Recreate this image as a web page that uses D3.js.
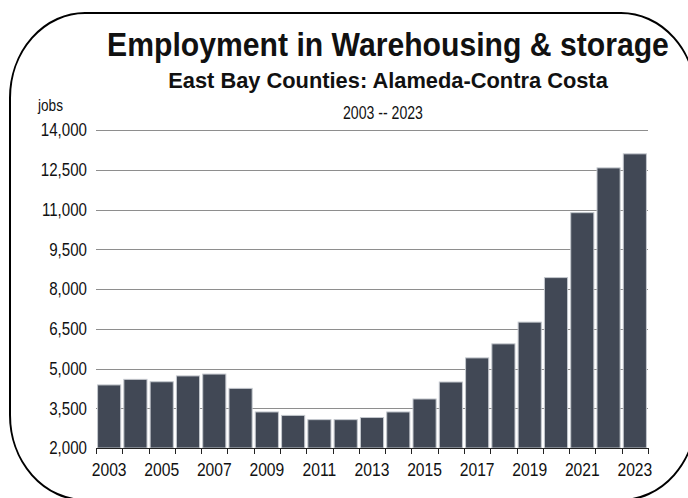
<!DOCTYPE html>
<html>
<head>
<meta charset="utf-8">
<script src="https://cdn.jsdelivr.net/npm/d3@7"></script>
<style>
  html, body { margin: 0; padding: 0; background: #fff; }
  svg { display: block; }
  text { font-family: "Liberation Sans", Arial, sans-serif; fill: #111; }
</style>
</head>
<body>
<svg id="chart" width="688" height="498"></svg>
<script>
// Annual employment, warehousing & storage (jobs)
const years = [2003, 2004, 2005, 2006, 2007, 2008, 2009, 2010, 2011, 2012, 2013,
               2014, 2015, 2016, 2017, 2018, 2019, 2020, 2021, 2022, 2023];
const jobs = [4380, 4590, 4500, 4720, 4790, 4250, 3360, 3230, 3070, 3070, 3150,
              3360, 3850, 4490, 5400, 5930, 6750, 8430, 10880, 12570, 13100];
const yTicks = [2000, 3500, 5000, 6500, 8000, 9500, 11000, 12500, 14000];
const xLabelYears = [2003, 2005, 2007, 2009, 2011, 2013, 2015, 2017, 2019, 2021, 2023];

const titleText = "Employment in Warehousing & storage";
const subtitleText = "East Bay Counties: Alameda-Contra Costa";
const rangeText = "2003 -- 2023";
const unitText = "jobs";

const svg = d3.select("#chart");
const plot = { left: 96, right: 648, top: 130, bottom: 448 };

// Condensed text: draws a label squeezed horizontally around its anchor point
function narrowText(parent, str, px, py, opts) {
  const g = parent.append("g")
    .attr("transform", `translate(${px},${py}) scale(${opts.sx || 1},1)`);
  const t = g.append("text")
    .attr("text-anchor", opts.anchor || "start")
    .attr("dy", opts.dy || null)
    .style("font-size", opts.size + "px")
    .style("font-weight", opts.weight || "normal")
    .text(str);
  if (opts.width) {
    const len = t.node().getComputedTextLength();
    g.attr("transform", `translate(${px},${py}) scale(${opts.width / len},1)`);
  }
  return t;
}

// Rounded frame around the whole chart
svg.append("rect")
  .attr("x", 10).attr("y", 13)
  .attr("width", 686).attr("height", 487)
  .attr("rx", 75).attr("ry", 85)
  .attr("fill", "none")
  .attr("stroke", "#000")
  .attr("stroke-width", 2);

const x = d3.scaleBand()
  .domain(years)
  .range([plot.left, plot.right])
  .paddingInner(0.12)
  .paddingOuter(0.06);

const y = d3.scaleLinear()
  .domain([2000, 14000])
  .range([plot.bottom, plot.top]);

// Horizontal gridlines
svg.append("g")
  .selectAll("line")
  .data(yTicks.slice(1))
  .join("line")
  .attr("x1", plot.left).attr("x2", plot.right)
  .attr("y1", d => Math.round(y(d)) + 0.5)
  .attr("y2", d => Math.round(y(d)) + 0.5)
  .attr("stroke", "#8e8e8e")
  .attr("stroke-width", 1);

// Y tick labels
const yLab = svg.append("g");
yTicks.forEach(d => {
  narrowText(yLab, d3.format(",")(d), 87, y(d), { sx: 0.84, size: 18, anchor: "end", dy: "0.35em" });
});

// Bars
svg.append("g")
  .selectAll("rect")
  .data(years)
  .join("rect")
  .attr("x", d => x(d))
  .attr("width", x.bandwidth())
  .attr("y", (d, i) => y(jobs[i]))
  .attr("height", (d, i) => y(2000) - y(jobs[i]))
  .attr("fill", "#414855")
  .attr("stroke", "#c3c7cd")
  .attr("stroke-width", 1);

// X axis line with ticks at category boundaries
const half = x.step() * x.paddingInner() / 2;
const boundaries = years.map(d => x(d) - half).concat([plot.right]);
boundaries[0] = plot.left;
const xAxis = svg.append("g");
xAxis.append("line")
  .attr("x1", plot.left).attr("x2", plot.right)
  .attr("y1", plot.bottom + 0.5).attr("y2", plot.bottom + 0.5)
  .attr("stroke", "#222").attr("stroke-width", 1);
xAxis.selectAll("line.tick")
  .data(boundaries)
  .join("line")
  .attr("class", "tick")
  .attr("x1", d => Math.round(d) + 0.5).attr("x2", d => Math.round(d) + 0.5)
  .attr("y1", plot.bottom).attr("y2", plot.bottom + 6)
  .attr("stroke", "#222").attr("stroke-width", 1);
xLabelYears.forEach(d => {
  narrowText(xAxis, String(d), x(d) + x.bandwidth() / 2, 476, { sx: 0.87, size: 18, anchor: "middle" });
});

// Titles
narrowText(svg, titleText, 388, 56, { size: 34, weight: "bold", anchor: "middle", width: 562 });
narrowText(svg, subtitleText, 388, 88, { size: 22, weight: "bold", anchor: "middle", width: 440 });
narrowText(svg, rangeText, 383, 119, { size: 18, anchor: "middle", width: 80 });
narrowText(svg, unitText, 38, 111, { size: 16, anchor: "start", width: 25 });
</script>
</body>
</html>
